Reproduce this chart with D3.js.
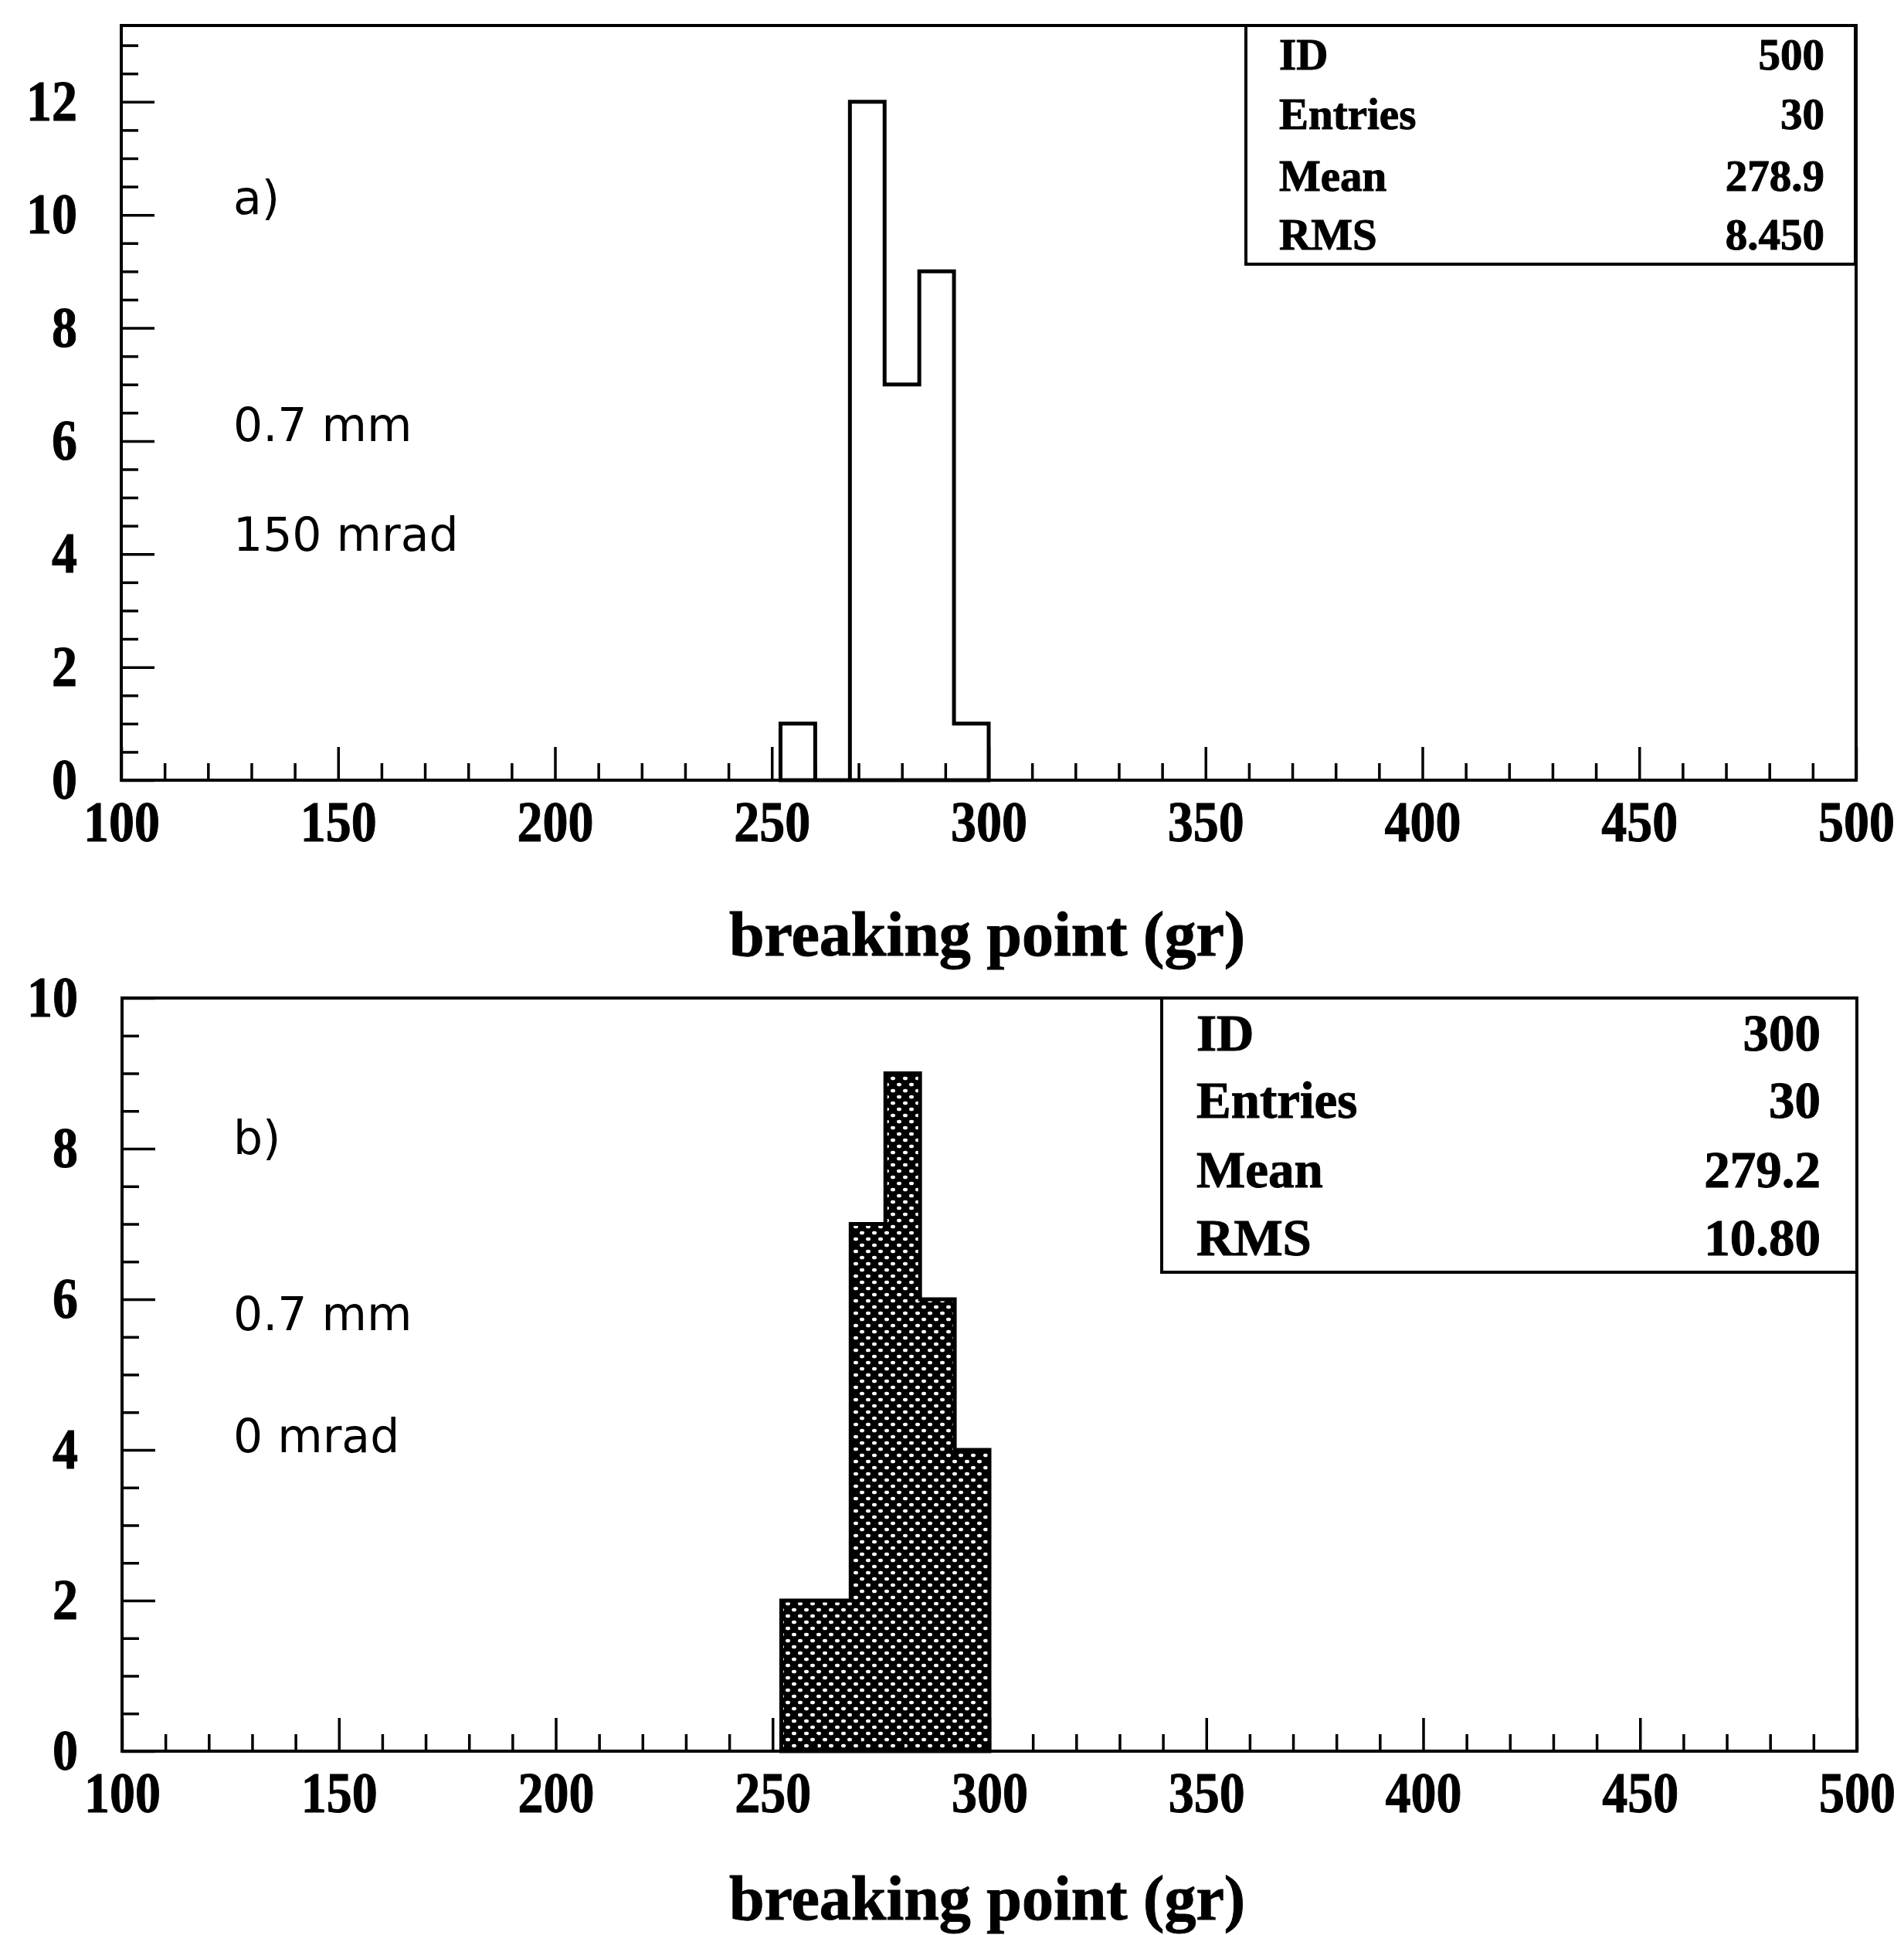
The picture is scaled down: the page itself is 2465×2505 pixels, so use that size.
<!DOCTYPE html>
<meta charset="utf-8">

<!-- Load d3.js -->
<script src="https://d3js.org/d3.v7.min.js"></script>

<style>
  body { margin: 0; background: #fff; }
</style>

<div id="my_dataviz"></div>

<script>

    // histogram data (bins of width 8 starting at 252)
    const binLow = [252, 260, 268, 276, 284, 292];
    const binWidth = 8;
    const countsA = [1, 0, 12, 7, 9, 1];
    const countsB = [2, 2, 7, 9, 6, 4];

    // axis ticks
    const xMajor = [100, 150, 200, 250, 300, 350, 400, 450, 500];
    const yMajorA = [0, 2, 4, 6, 8, 10, 12];
    const yMajorB = [0, 2, 4, 6, 8, 10];

    // stats boxes
    const statLabels = ["ID", "Entries", "Mean", "RMS"];
    const statsA = ["500", "30", "278.9", "8.450"];
    const statsB = ["300", "30", "279.2", "10.80"];

    // side texts
    const notesA = ["a)", "0.7 mm", "150 mrad"];
    const notesB = ["b)", "0.7 mm", "0 mrad"];

    const xTitle = "breaking point (gr)";

    const serif = "Liberation Serif, Times New Roman, serif";

    const svg = d3.select("#my_dataviz")
        .append("svg")
        .attr("width", 2465)
        .attr("height", 2505);

    // cross hatch fill for the second histogram
    const pat = svg.append("defs").append("pattern")
        .attr("id", "hatch")
        .attr("patternUnits", "userSpaceOnUse")
        .attr("width", 16)
        .attr("height", 16);
    pat.append("rect").attr("width", 16).attr("height", 16).attr("fill", "#000");
    pat.append("ellipse").attr("cx", 4).attr("cy", 4).attr("rx", 3).attr("ry", 2.3).attr("fill", "#fff");
    pat.append("ellipse").attr("cx", 12).attr("cy", 12).attr("rx", 3).attr("ry", 2.3).attr("fill", "#fff");

    const panels = [
        {left: 157, right: 2403, top: 33, bottom: 1010, ymax: 13.35, yMajor: yMajorA, minorTop: 13,
         counts: countsA, filled: false, stats: statsA, notes: notesA,
         noteY: [277, 571, 713], titleY: 1237,
         box: {x: 1613, y: 33, w: 789, h: 309, fs: 57, lx: 1656, rx: 2362, rows: [90, 167, 247, 323]}},
        {left: 158, right: 2404, top: 1292, bottom: 2267, ymax: 10, yMajor: yMajorB, minorTop: 10,
         counts: countsB, filled: true, stats: statsB, notes: notesB,
         noteY: [1494, 1722, 1880], titleY: 2485,
         box: {x: 1504, y: 1292, w: 900, h: 355, fs: 67, lx: 1549, rx: 2357, rows: [1360, 1447, 1537, 1625]}}
    ];

    panels.forEach(function(p) {

        const x = d3.scaleLinear().domain([100, 500]).range([p.left, p.right]);
        const y = d3.scaleLinear().domain([0, p.ymax]).range([p.bottom, p.top]);

        const xMinor = d3.range(110, 500, 10).filter(d => d % 50 !== 0);
        const yMinor = d3.range(0.5, p.minorTop + 0.01, 0.5).filter(d => d % 2 !== 0);

        // histogram
        let pts = [[x(binLow[0]), y(0)]];
        p.counts.forEach(function(c, i) {
            pts.push([x(binLow[i]), y(c)]);
            pts.push([x(binLow[i] + binWidth), y(c)]);
        });
        pts.push([x(binLow[binLow.length - 1] + binWidth), y(0)]);
        svg.append("path")
            .attr("d", d3.line()(pts) + "Z")
            .attr("fill", p.filled ? "url(#hatch)" : "none")
            .attr("stroke", "#000")
            .attr("stroke-width", 5)
            .attr("stroke-linejoin", "miter");

        // X axis, major then minor
        const gx = svg.append("g")
            .attr("transform", `translate(0, ${p.bottom})`)
            .call(d3.axisBottom(x).tickValues(xMajor).tickSize(-43).tickSizeOuter(0)
                .tickPadding(26).tickFormat(d3.format("d")));
        svg.append("g")
            .attr("transform", `translate(0, ${p.bottom})`)
            .call(d3.axisBottom(x).tickValues(xMinor).tickSize(-22).tickSizeOuter(0).tickFormat(""));

        // Y axis, major then minor
        const gy = svg.append("g")
            .attr("transform", `translate(${p.left}, 0)`)
            .call(d3.axisLeft(y).tickValues(p.yMajor).tickSize(-43).tickSizeOuter(0)
                .tickPadding(57).tickFormat(d3.format("d")));
        svg.append("g")
            .attr("transform", `translate(${p.left}, 0)`)
            .call(d3.axisLeft(y).tickValues(yMinor).tickSize(-22).tickSizeOuter(0).tickFormat(""));

        svg.selectAll(".domain").remove();
        svg.selectAll(".tick line").attr("stroke-width", 3.5);

        [gx, gy].forEach(function(g) {
            g.selectAll("text")
                .attr("font-family", serif)
                .attr("font-weight", "bold")
                .attr("font-size", 74)
                .attr("stroke", "#000")
                .attr("stroke-width", 1)
                .attr("lengthAdjust", "spacingAndGlyphs")
                .attr("textLength", function(d) { return String(d).length * 33; });
        });

        // frame
        svg.append("rect")
            .attr("x", p.left).attr("y", p.top)
            .attr("width", p.right - p.left).attr("height", p.bottom - p.top)
            .attr("fill", "none")
            .attr("stroke", "#000")
            .attr("stroke-width", 4);

        // stats box
        const b = p.box;
        svg.append("rect")
            .attr("x", b.x).attr("y", b.y).attr("width", b.w).attr("height", b.h)
            .attr("fill", "#fff")
            .attr("stroke", "#000")
            .attr("stroke-width", 4);
        const rows = svg.append("g")
            .attr("font-family", serif)
            .attr("font-weight", "bold")
            .attr("font-size", b.fs)
            .attr("stroke", "#000")
            .attr("stroke-width", 1);
        rows.selectAll(".lab").data(statLabels).join("text")
            .attr("x", b.lx).attr("y", (d, i) => b.rows[i])
            .text(d => d);
        rows.selectAll(".val").data(p.stats).join("text")
            .attr("x", b.rx).attr("y", (d, i) => b.rows[i])
            .attr("text-anchor", "end")
            .text(d => d);

        // side notes
        svg.append("g")
            .attr("font-family", "DejaVu Sans, sans-serif")
            .attr("font-size", 60)
            .selectAll("text").data(p.notes).join("text")
            .attr("x", 302)
            .attr("y", (d, i) => p.noteY[i])
            .text(d => d);

        // axis title
        svg.append("text")
            .attr("x", 1278).attr("y", p.titleY)
            .attr("text-anchor", "middle")
            .attr("font-family", serif)
            .attr("font-weight", "bold")
            .attr("font-size", 82)
            .attr("stroke", "#000")
            .attr("stroke-width", 1)
            .text(xTitle);
    });

</script>
